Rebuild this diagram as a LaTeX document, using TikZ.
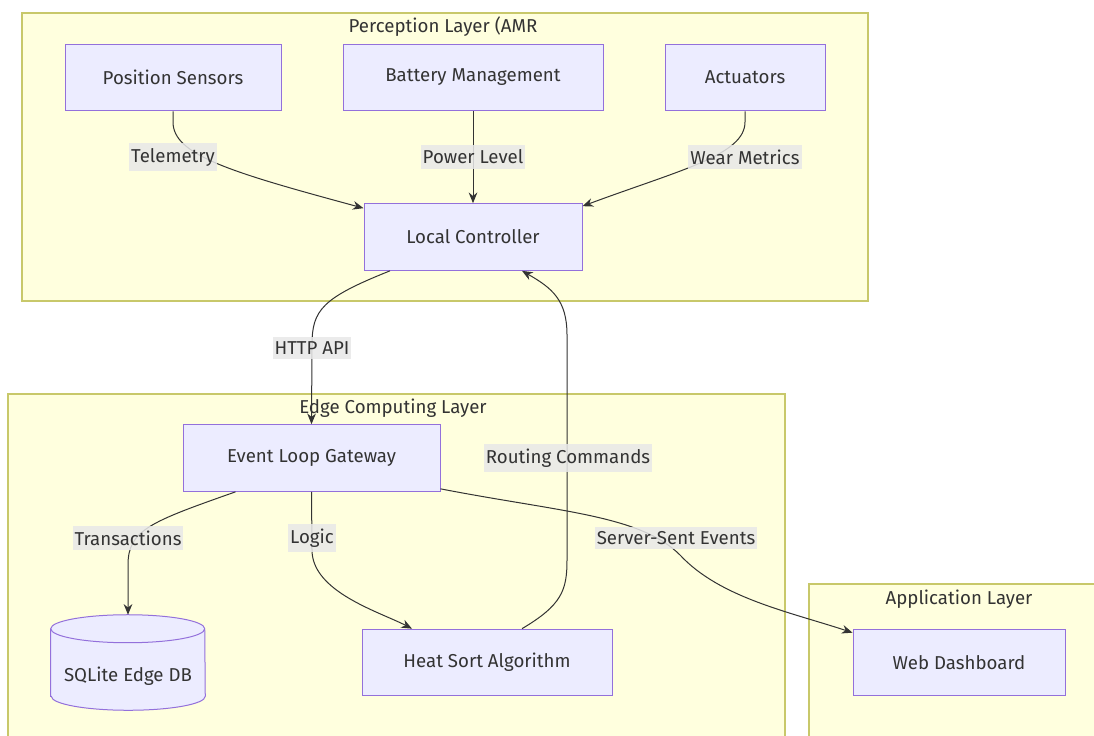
\documentclass[tikz,border=0pt]{standalone}
\usepackage{fontspec}
\setmainfont{Fira Sans}
\usepackage{tikz}
\usetikzlibrary{calc, positioning}
\usetikzlibrary{arrows.meta}
\tikzset{>={Stealth[length=8pt, width=6.5pt]}}
\definecolor{clfill}{HTML}{FFFFDE}
\definecolor{cldraw}{HTML}{C8C86A}
\definecolor{ndfill}{HTML}{ECECFF}
\definecolor{nddraw}{HTML}{9370DB}
\definecolor{txt}{HTML}{333333}
\definecolor{lblbg}{HTML}{E8E8E8}
\tikzset{
  layer/.style={fill=clfill, draw=cldraw, line width=0.9pt},
  box/.style={rectangle, fill=ndfill, draw=nddraw, line width=0.75pt, text=txt, font=\fontsize{14}{16}\selectfont, minimum height=50pt},
  title/.style={text=txt, font=\fontsize{14}{16}\selectfont},
  lbl/.style={fill=lblbg, fill opacity=0.85, text opacity=1, text=txt, inner xsep=1.5pt, inner ysep=3.5pt, font=\fontsize{14}{16}\selectfont},
  flow/.style={->, draw=txt, line width=0.75pt}
}
\begin{document}
\begin{tikzpicture}[x=0.75pt, y=-0.75pt]
	\clip (0,0) rectangle (1094,735);
	\fill[white] (0,0) rectangle (1094,735);
	\draw[layer] (22,13) rectangle (868,301);
	\draw[layer] (8,394) rectangle (785,750);
	\draw[layer] (809,584) rectangle (1110,750);
	\node[title] (tper) at (443,27) {Perception Layer (AMR};
	\node[title] (tedge) at (393,408) {Edge Computing Layer};
	\node[title] (tapp) at (959,599) {Application Layer};
	\node[box, minimum width=162pt] (ps) at (173,77.5) {Position Sensors};
	\node[box, minimum width=195pt] (bm) at (473,77.5) {Battery Management};
	\node[box, minimum width=120pt] (act) at (745,77.5) {Actuators};
	\node[box, minimum width=163.5pt] (lc) at (473,237) {Local Controller};
	\node[box, minimum width=192.75pt] (gw) at (311.5,458) {Event Loop Gateway};
	\node[minimum width=115.5pt, minimum height=71.25pt, inner sep=0pt] (db) at (128,662.5) {};
	\filldraw[fill=ndfill, draw=nddraw, line width=0.75pt] ($(db.south west)+(0,-14)$) -- ($(db.north west)+(0,14)$)
		arc[start angle=180, end angle=0, x radius=57.75pt, y radius=10.5pt]
		-- ($(db.south east)+(0,-14)$) arc[start angle=0, end angle=-180, x radius=57.75pt, y radius=10.5pt] -- cycle;
	\draw[draw=nddraw, line width=0.75pt] ($(db.north west)+(0,14)$) arc[start angle=180, end angle=360, x radius=57.75pt, y radius=10.5pt];
	\node[text=txt, font=\fontsize{14}{16}\selectfont] (dbtxt) at (128,676) {SQLite Edge DB};
	\node[box, minimum width=187.5pt] (hs) at (487,662.5) {Heat Sort Algorithm};
	\node[box, minimum width=159pt] (wd) at (959,662.5) {Web Dashboard};
	\draw[flow] (ps.south) -- (173,122) .. controls (173,155) and (230,172) .. ($(lc.north west)+(0,5)$);
	\draw[flow] (bm.south) -- (lc.north);
	\draw[flow] (act.south) -- (745,122) .. controls (745,155) and (680,170) .. ($(lc.north east)+(0,3)$);
	\draw[flow] ($(lc.south)+(-83,0)$) .. controls (322,298) and (312,310) .. (312,345) -- (gw.north);
	\draw[flow] ($(hs.north)+(35,0)$) .. controls (562,605) and (567,590) .. (567,560) -- (567,335) .. controls (567,300) and (552,288) .. ($(lc.south)+(49,0)$);
	\draw[flow] ($(gw.south)+(-76,0)$) .. controls (150,522) and (128,530) .. (128,565) -- (db.north);
	\draw[flow] (gw.south) -- (312,550) .. controls (312,592) and (380,612) .. ($(hs.north)+(-75,0)$);
	\draw[flow] ($(gw.south east)+(0,-3)$) .. controls (560,512) and (640,515) .. (680,555) .. controls (720,598) and (790,612) .. ($(wd.north west)+(0,4)$);
	\node[lbl] (ltel) at (173,157) {Telemetry};
	\node[lbl] (lpow) at (473,157) {Power Level};
	\node[lbl] (lwear) at (745,157) {Wear Metrics};
	\node[lbl] (lhttp) at (312,348) {HTTP API};
	\node[lbl] (lrout) at (568,458) {Routing Commands};
	\node[lbl] (ltrans) at (128,538) {Transactions};
	\node[lbl] (llog) at (312,538) {Logic};
	\node[lbl] (lsse) at (676,538) {Server-Sent Events};
\end{tikzpicture}
\end{document}
